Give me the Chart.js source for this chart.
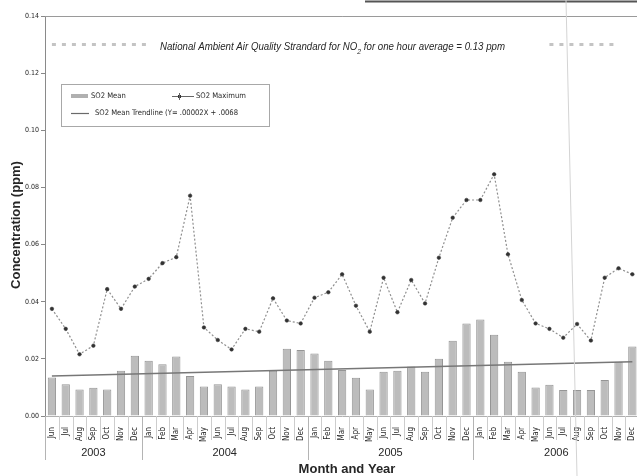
<!DOCTYPE html>
<html>
<head>
<meta charset="utf-8">
<script src="https://cdn.jsdelivr.net/npm/chart.js@4/dist/chart.umd.min.js"></script>
<style>
  html, body { margin: 0; padding: 0; background: #fff; overflow: hidden; }
  #wrap { width: 645px; height: 476px; }
</style>
</head>
<body>
<div id="wrap"><canvas id="so2" width="645" height="476"></canvas></div>
<script>
// months Jun 2003 .. Dec 2006
const months = [
  'Jun','Jul','Aug','Sep','Oct','Nov','Dec',
  'Jan','Feb','Mar','Apr','May','Jun','Jul','Aug','Sep','Oct','Nov','Dec',
  'Jan','Feb','Mar','Apr','May','Jun','Jul','Aug','Sep','Oct','Nov','Dec',
  'Jan','Feb','Mar','Apr','May','Jun','Jul','Aug','Sep','Oct','Nov','Dec'
];
const years = ['2003', '2004', '2005', '2006'];

const so2Mean = [
  0.0135, 0.0111, 0.0093, 0.0099, 0.0093, 0.0158, 0.0211,
  0.0193, 0.0181, 0.0208, 0.0140, 0.0103, 0.0111, 0.0103, 0.0093, 0.0103, 0.0158, 0.0235, 0.0231,
  0.0219, 0.0193, 0.0161, 0.0134, 0.0093, 0.0155, 0.0158, 0.0173, 0.0155, 0.0200, 0.0263, 0.0324,
  0.0338, 0.0284, 0.0190, 0.0155, 0.0100, 0.0109, 0.0091, 0.0091, 0.0091, 0.0126, 0.0190, 0.0243
];

const so2Max = [
  0.0375, 0.0305, 0.0216, 0.0246, 0.0444, 0.0375, 0.0453,
  0.0480, 0.0535, 0.0556, 0.0771, 0.0310, 0.0266, 0.0233, 0.0305, 0.0295, 0.0412, 0.0334, 0.0324,
  0.0414, 0.0433, 0.0496, 0.0386, 0.0295, 0.0484, 0.0363, 0.0476, 0.0394, 0.0554, 0.0694, 0.0756,
  0.0756, 0.0846, 0.0566, 0.0406, 0.0324, 0.0305, 0.0274, 0.0322, 0.0264, 0.0484, 0.0517, 0.0496
];

// trendline: only the two end values
const trendStart = 0.0140;
const trendEnd = 0.0190;

// NAAQS dashed marker (0.13 ppm), drawn left and right of the caption
const naaqsValue = 0.13;
const naaqsLeft = [0, 7];    // month index range
const naaqsRight = [36, 41];

const yTicks = [0.00, 0.02, 0.04, 0.06, 0.08, 0.10, 0.12, 0.14];

const trendData = months.map((m, i) => i === 0 ? trendStart : (i === months.length - 1 ? trendEnd : null));
const naaqsData = months.map((m, i) =>
  (i >= naaqsLeft[0] && i <= naaqsLeft[1]) || (i >= naaqsRight[0] && i <= naaqsRight[1]) ? naaqsValue : null);

const TXT = '#262626';
const NARROW = '"Liberation Sans Narrow", "DejaVu Sans Condensed", Arial, sans-serif';
const SANS = '"Liberation Sans", Arial, sans-serif';

const decorPlugin = {
  id: 'decor',
  afterDraw(chart) {
    const ctx = chart.ctx;
    const xs = chart.scales.x;
    const ys = chart.scales.y;
    const area = chart.chartArea;
    const half = (xs.getPixelForValue(1) - xs.getPixelForValue(0)) / 2;
    ctx.save();

    // top border of plot
    ctx.strokeStyle = '#9a9a9a';
    ctx.lineWidth = 1;
    ctx.beginPath();
    ctx.moveTo(area.left, area.top + 0.5);
    ctx.lineTo(area.right, area.top + 0.5);
    ctx.stroke();

    // scan leftovers: box edge at top right and thin vertical line
    ctx.strokeStyle = '#555';
    ctx.lineWidth = 2;
    ctx.beginPath();
    ctx.moveTo(365, 1.5);
    ctx.lineTo(645, 1.5);
    ctx.stroke();
    ctx.strokeStyle = '#d4d4d4';
    ctx.lineWidth = 1;
    ctx.beginPath();
    ctx.moveTo(566, 0);
    ctx.lineTo(577, 476);
    ctx.stroke();

    // month separators below the axis
    ctx.strokeStyle = '#cdcdcd';
    ctx.lineWidth = 1;
    for (let i = 1; i < months.length; i++) {
      const x = Math.round(xs.getPixelForValue(i) - half) + 0.5;
      ctx.beginPath();
      ctx.moveTo(x, area.bottom);
      ctx.lineTo(x, area.bottom + 24);
      ctx.stroke();
    }

    // NAAQS caption
    const y13 = ys.getPixelForValue(naaqsValue);
    ctx.fillStyle = TXT;
    ctx.textBaseline = 'middle';
    ctx.textAlign = 'left';
    const part1 = 'National Ambient Air Quality Strandard for NO';
    const part2 = ' for one hour average = 0.13 ppm';
    ctx.font = 'italic 10px ' + SANS;
    const w1 = ctx.measureText(part1).width;
    ctx.font = 'italic 7px ' + SANS;
    const ws = ctx.measureText('2').width;
    ctx.font = 'italic 10px ' + SANS;
    const w2 = ctx.measureText(part2).width;
    const total = w1 + ws + w2;
    const target = 345;
    ctx.save();
    ctx.translate(160, y13 + 3);
    ctx.scale(target / total, 1);
    ctx.fillText(part1, 0, 0);
    ctx.font = 'italic 7px ' + SANS;
    ctx.fillText('2', w1, 4);
    ctx.font = 'italic 10px ' + SANS;
    ctx.fillText(part2, w1 + ws, 0);
    ctx.restore();

    // legend box
    ctx.strokeStyle = '#a8a8a8';
    ctx.lineWidth = 1;
    ctx.strokeRect(61.5, 84.5, 208, 42);
    ctx.font = '7.6px ' + NARROW;
    ctx.fillStyle = TXT;
    // SO2 Mean
    ctx.fillStyle = '#b0b0b0';
    ctx.fillRect(71, 94, 17, 4);
    ctx.fillStyle = TXT;
    ctx.fillText('SO2 Mean', 91, 96);
    // SO2 Maximum
    ctx.strokeStyle = '#666';
    ctx.beginPath();
    ctx.moveTo(172, 96.5);
    ctx.lineTo(194, 96.5);
    ctx.stroke();
    ctx.fillStyle = '#333';
    ctx.fillRect(178, 95, 3, 3);
    ctx.beginPath();
    ctx.moveTo(179.5, 93);
    ctx.lineTo(179.5, 100);
    ctx.stroke();
    ctx.fillStyle = TXT;
    ctx.fillText('SO2 Maximum', 196, 96);
    // trendline
    ctx.strokeStyle = '#6a6a6a';
    ctx.lineWidth = 1.2;
    ctx.beginPath();
    ctx.moveTo(71, 113.5);
    ctx.lineTo(89, 113.5);
    ctx.stroke();
    ctx.fillText('SO2 Mean Trendline (Y= .00002X + .0068', 95, 113);

    // year separators and labels
    const starts = [0];
    months.forEach((m, i) => { if (m === 'Jan') starts.push(i); });
    const bounds = starts.concat([months.length]);
    ctx.strokeStyle = '#b4b4b4';
    ctx.lineWidth = 1;
    bounds.forEach(b => {
      const x = Math.round(xs.getPixelForValue(b) - half) + 0.5;
      ctx.beginPath();
      ctx.moveTo(x, area.bottom);
      ctx.lineTo(x, area.bottom + 44);
      ctx.stroke();
    });
    ctx.font = '11px ' + SANS;
    ctx.textAlign = 'center';
    ctx.fillStyle = TXT;
    years.forEach((yr, k) => {
      const a = xs.getPixelForValue(bounds[k]) - half;
      const b = xs.getPixelForValue(bounds[k + 1]) - half;
      ctx.fillText(yr, (a + b) / 2, 453);
    });

    // axis titles
    ctx.font = 'bold 13px ' + SANS;
    ctx.fillText('Month and Year', 347, 469);
    ctx.save();
    ctx.translate(16, 225);
    ctx.rotate(-Math.PI / 2);
    ctx.fillText('Concentration (ppm)', 0, 0);
    ctx.restore();

    ctx.restore();
  }
};

new Chart(document.getElementById('so2'), {
  type: 'bar',
  data: {
    labels: months,
    datasets: [
      {
        type: 'line',
        label: 'NAAQS',
        data: naaqsData,
        borderColor: '#c4c4c4',
        borderWidth: 3,
        borderDash: [4, 6],
        pointRadius: 0,
        spanGaps: false,
        order: 1
      },
      {
        type: 'line',
        label: 'SO2 Maximum',
        data: so2Max,
        borderColor: '#8f8f8f',
        borderWidth: 1.2,
        borderDash: [2, 2],
        pointRadius: 1.8,
        pointBackgroundColor: '#333',
        pointBorderColor: '#333',
        pointBorderWidth: 0.5,
        tension: 0,
        order: 1
      },
      {
        type: 'line',
        label: 'SO2 Mean Trendline',
        data: trendData,
        borderColor: '#777',
        borderWidth: 1.5,
        pointRadius: 0,
        spanGaps: true,
        order: 1
      },
      {
        type: 'bar',
        label: 'SO2 Mean',
        data: so2Mean,
        backgroundColor: '#bcbcbc',
        borderColor: '#959595',
        borderWidth: 1,
        categoryPercentage: 1,
        barPercentage: 0.6,
        order: 2
      }
    ]
  },
  options: {
    responsive: false,
    devicePixelRatio: 1,
    animation: false,
    layout: { padding: { top: 16, right: 2, left: 0, bottom: 0 } },
    plugins: {
      legend: { display: false },
      tooltip: { enabled: false }
    },
    scales: {
      x: {
        offset: true,
        grid: { display: false },
        border: { display: true, color: '#b0b0b0' },
        ticks: {
          autoSkip: false,
          maxRotation: 90,
          minRotation: 90,
          padding: 3,
          color: TXT,
          font: { size: 8, family: NARROW }
        },
        afterFit(scale) { scale.height = 60; }
      },
      y: {
        min: 0,
        max: 0.14,
        afterBuildTicks(scale) { scale.ticks = yTicks.map(v => ({ value: v })); },
        grid: { drawOnChartArea: false, tickLength: 4, color: '#888' },
        border: { display: true, color: '#8a8a8a' },
        ticks: {
          color: TXT,
          padding: 2,
          font: { size: 7, family: NARROW },
          callback: v => v.toFixed(2)
        },
        afterFit(scale) { scale.width = 45; }
      }
    }
  },
  plugins: [decorPlugin]
});
</script>
</body>
</html>
